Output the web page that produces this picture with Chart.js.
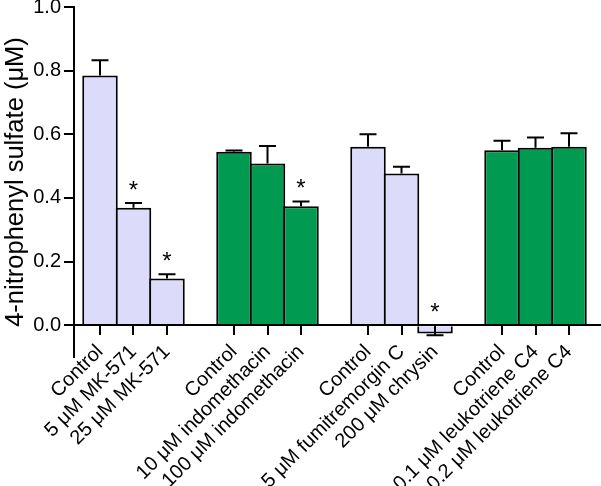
<!DOCTYPE html>
<html>
<head>
<meta charset="utf-8">
<script src="https://cdn.jsdelivr.net/npm/chart.js@4.4.0/dist/chart.umd.min.js"></script>
<style>
	body { margin: 0; background: #fff; }
	#wrap { width: 601px; height: 486px; }
</style>
</head>
<body>
<div id="wrap"><canvas id="sulfateChart"></canvas></div>
<script>
// 类别 ('' = 组间空位)
const categories = [
	'Control', '5 μM MK-571', '25 μM MK-571', '',
	'Control', '10 μM indomethacin', '100 μM indomethacin', '',
	'Control', '5 μM fumitremorgin C', '200 μM chrysin', '',
	'Control', '0.1 μM leukotriene C4', '0.2 μM leukotriene C4'
];
// 平均值 (μM)
const values = [
	0.785, 0.369, 0.147, null,
	0.545, 0.508, 0.374, null,
	0.561, 0.477, -0.026, null,
	0.550, 0.558, 0.561
];
// 误差 (SD)
const errors = [
	0.048, 0.015, 0.013, null,
	0.004, 0.055, 0.015, null,
	0.039, 0.021, 0.006, null,
	0.030, 0.032, 0.042
];
// 显著性 (*)
const signif = [
	false, true, true, null,
	false, false, true, null,
	false, false, true, null,
	false, false, false
];
// y轴刻度
const yTicks = [0, 0.2, 0.4, 0.6, 0.8, 1.0];

const lavender = '#dcdcfa';
const green = '#009a50';
const font = '"Liberation Sans", Arial, Helvetica, sans-serif';

// 组装数据点
const points = [];
categories.forEach((c, i) => {
	if (c === '') return;
	points.push({ x: i, y: values[i], err: errors[i], sig: signif[i] });
});

// 误差线和星号
const errorBars = {
	id: 'errorBars',
	afterDatasetsDraw(chart) {
		const ctx = chart.ctx;
		const yScale = chart.scales.y;
		const meta = chart.getDatasetMeta(0);
		ctx.save();
		ctx.strokeStyle = '#000';
		ctx.lineWidth = 2;
		meta.data.forEach((bar, j) => {
			const p = points[j];
			const end = p.y >= 0 ? p.y + p.err : p.y - p.err;
			const y0 = yScale.getPixelForValue(p.y);
			const y1 = yScale.getPixelForValue(end);
			ctx.beginPath();
			ctx.moveTo(bar.x, y0);
			ctx.lineTo(bar.x, y1);
			ctx.moveTo(bar.x - 8.5, y1);
			ctx.lineTo(bar.x + 8.5, y1);
			ctx.stroke();
			if (p.sig) {
				const top = Math.min(y1, yScale.getPixelForValue(0));
				ctx.fillStyle = '#000';
				ctx.font = '24px ' + font;
				ctx.textAlign = 'center';
				ctx.textBaseline = 'alphabetic';
				ctx.fillText('*', bar.x, top - 18 + 13);
			}
		});
		ctx.restore();
	}
};

const ctx = document.getElementById('sulfateChart').getContext('2d');
new Chart(ctx, {
	type: 'bar',
	data: {
		datasets: [{
			data: points,
			backgroundColor: c => (Math.floor(c.raw.x / 4) % 2 === 0 ? lavender : green),
			borderColor: '#000',
			borderWidth: 2,
			barPercentage: 1.06,
			categoryPercentage: 1
		}]
	},
	options: {
		responsive: true,
		maintainAspectRatio: false,
		animation: false,
		layout: { padding: { top: 0, right: 1, bottom: 129, left: 0 } },
		plugins: {
			legend: { display: false },
			tooltip: { enabled: false }
		},
		scales: {
			x: {
				type: 'linear',
				position: { y: 0 },
				offset: false,
				min: -0.776,
				max: 14.925,
				grid: { offset: false, drawOnChartArea: false, color: '#000', lineWidth: 2, tickLength: 9, z: 1 },
				border: { display: true, color: '#000', width: 2, z: 1 },
				afterBuildTicks: scale => {
					scale.ticks = categories.map((c, i) => ({ value: i })).filter(t => categories[t.value] !== '');
				},
				afterFit: scale => {
					scale.paddingLeft = 0;
					scale.paddingRight = 0;
				},
				ticks: {
					autoSkip: false,
					minRotation: 45,
					maxRotation: 45,
					padding: 6,
					color: '#000',
					font: { family: font, size: 20 },
					callback: (v) => categories[v]
				}
			},
			y: {
				min: -0.1,
				max: 1.0,
				grid: { drawOnChartArea: false, color: '#000', lineWidth: 2, tickLength: 10 },
				border: { display: true, color: '#000', width: 2 },
				afterBuildTicks: scale => {
					scale.ticks = yTicks.map(v => ({ value: v }));
				},
				afterFit: scale => {
					scale.width = 74;
					scale.paddingTop = 7;
					scale.paddingBottom = 0;
				},
				ticks: {
					padding: 3,
					color: '#000',
					font: { family: font, size: 20 },
					callback: v => v.toFixed(1)
				},
				title: {
					display: true,
					text: '4-nitrophenyl sulfate (μM)',
					color: '#000',
					font: { family: font, size: 25.5 },
					padding: { top: 1, bottom: 0 }
				}
			}
		}
	},
	plugins: [errorBars]
});
</script>
</body>
</html>
